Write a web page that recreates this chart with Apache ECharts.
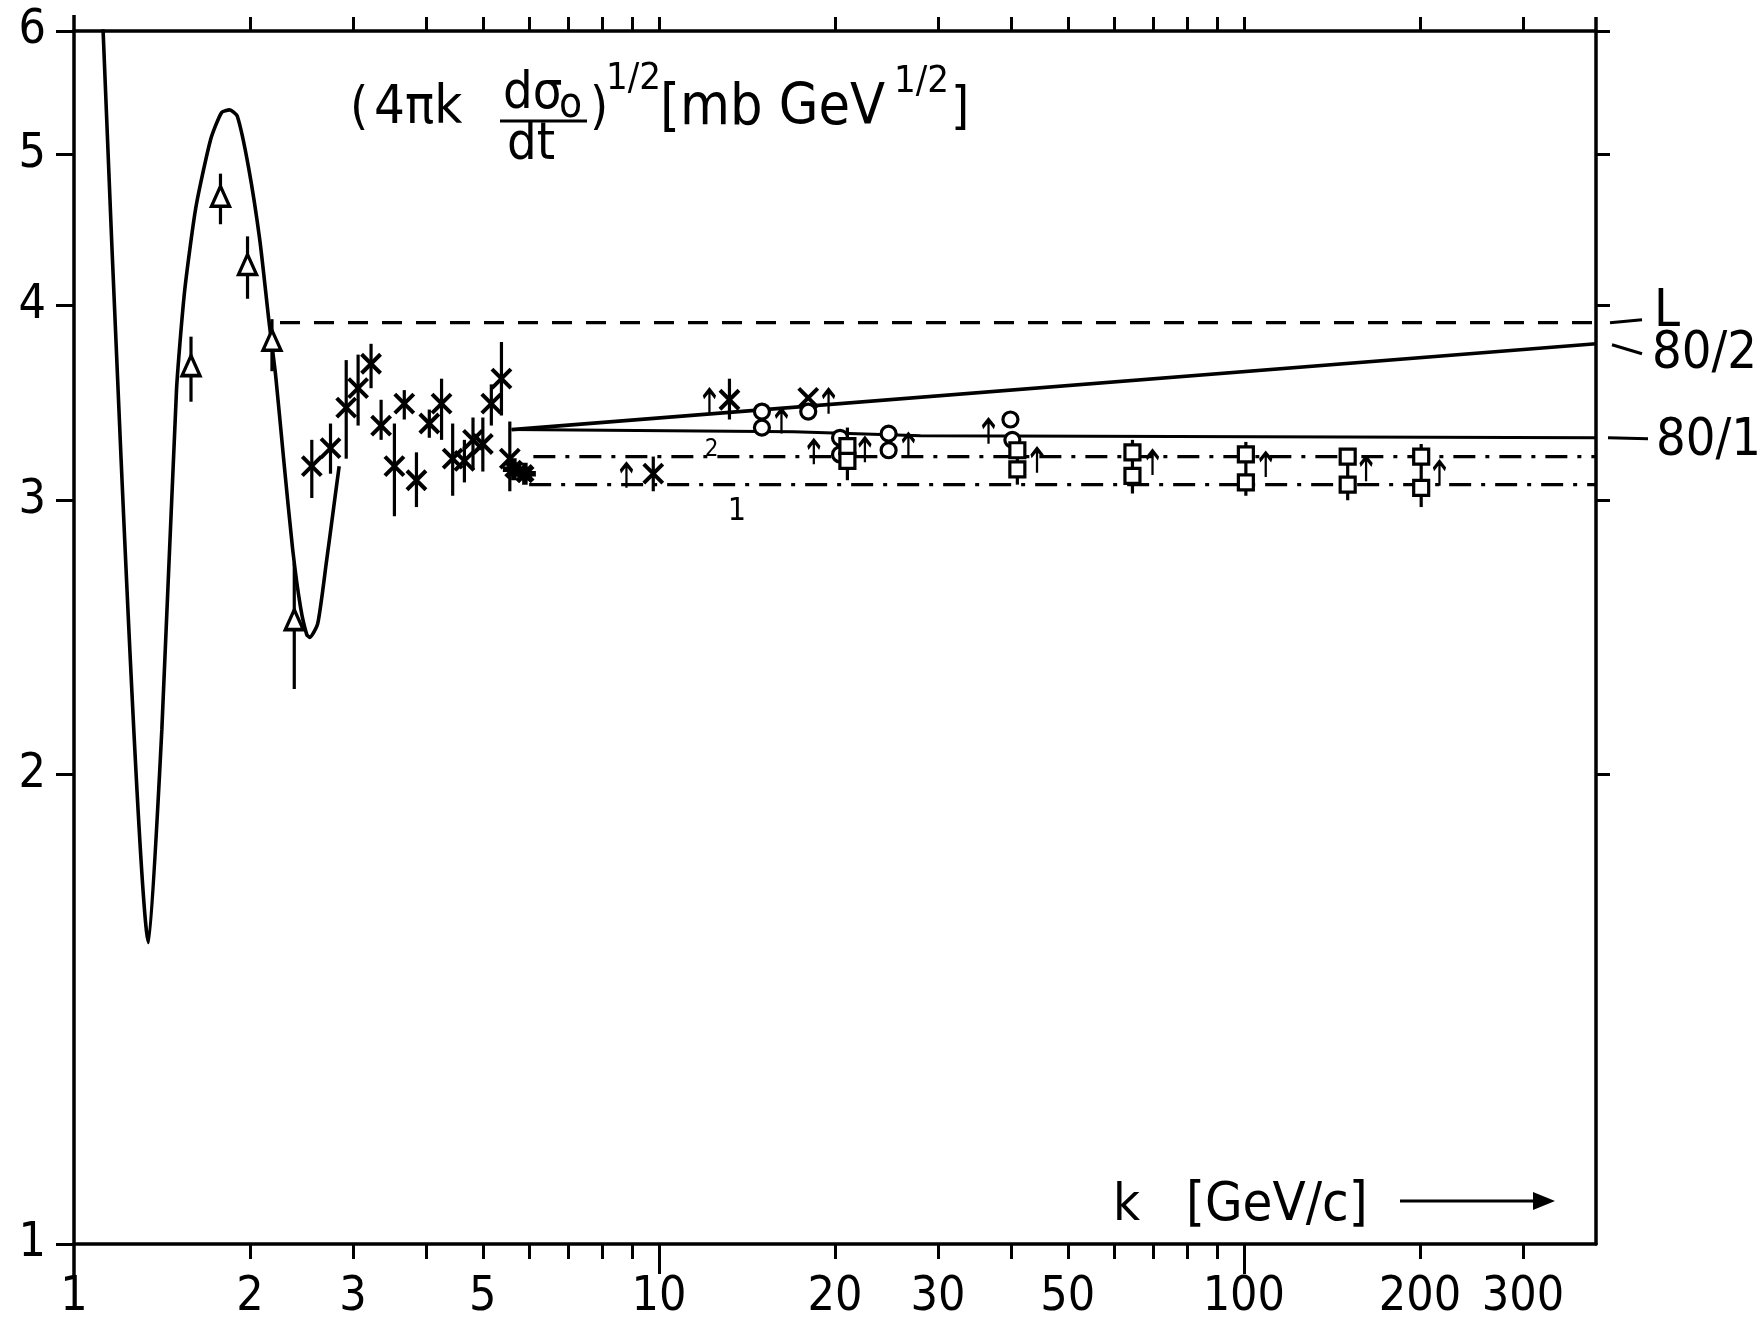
<!DOCTYPE html>
<html><head><meta charset="utf-8">
<script src="https://cdn.jsdelivr.net/npm/echarts@6/dist/echarts.min.js"></script>
<style>html,body{margin:0;padding:0;background:#fff}#c{width:1764px;height:1324px}</style>
</head><body><div id="c"></div><script>
const FONT = "'Liberation Sans Narrow','DejaVu Sans Condensed','Arial Narrow','Liberation Sans',sans-serif";

// ---- axis ticks / labels ----
const xMinorTicks = [2,3,4,5,6,7,8,9,20,30,40,50,60,70,80,90,200,300];
const xMajorTicks = [10,100];
const xTopTicks = [2,3,4,5,6,7,8,9,10,20,30,40,50,60,70,80,90,100,200,300];
const xLabels = [1,2,3,5,10,20,30,50,100,200,300];
const yLabels = [1,2,3,4,5,6];
const yRightTicks = [2,3,4,5,6];

// ---- curves [k, value] ----
const theoryCurve = [[1.112,6.5],[1.342,1.561],[1.413,2.137],[1.497,3.53],[1.545,4.08],[1.615,4.62],[1.712,5.11],[1.788,5.32],[1.845,5.34],[1.902,5.29],[1.989,4.90],[2.079,4.40],[2.154,3.91],[2.213,3.60],[2.284,3.18],[2.365,2.79],[2.44,2.56],[2.50,2.46],[2.53,2.45],[2.61,2.50],[2.70,2.735],[2.77,2.94],[2.84,3.155]];
const lineL = [[2.25,3.90],[400,3.90]];
const line80_2 = [[5.6,3.33],[400,3.78]];
const line80_1 = [[5.6,3.33],[17,3.32],[28,3.30],[400,3.29]];
const lineDD2 = [[6.1,3.20],[400,3.20]];
const lineDD1 = [[6.0,3.07],[400,3.07]];

// ---- data points ----
const triangles = [[1.585,3.66],[1.78,4.70],[1.98,4.25],[2.18,3.80],[2.38,2.515]];
const trianglesErr = [[1.585,3.47,3.82],[1.78,4.51,4.86],[1.98,4.04,4.43],[2.18,3.63,3.92],[2.38,2.27,2.735]];
const crosses = [[2.55,3.155],[2.745,3.24],[2.92,3.44],[3.06,3.54],[3.22,3.67],[3.35,3.35],[3.53,3.155],[3.67,3.46],[3.85,3.09],[4.05,3.36],[4.25,3.46],[4.44,3.19],[4.65,3.18],[4.81,3.28],[5.0,3.26],[5.17,3.46],[5.38,3.59],[5.56,3.19],[9.78,3.12],[13.2,3.48],[18.0,3.49]];
const crossesErr = [[2.55,3.01,3.28],[2.745,3.12,3.36],[2.92,3.19,3.69],[3.06,3.35,3.72],[3.22,3.54,3.78],[3.35,3.28,3.48],[3.53,2.93,3.36],[3.67,3.38,3.53],[3.85,2.97,3.22],[4.05,3.29,3.43],[4.25,3.28,3.59],[4.44,3.02,3.36],[4.65,3.08,3.28],[4.81,3.14,3.39],[5.0,3.13,3.39],[5.17,3.35,3.56],[5.38,3.40,3.79],[5.56,3.04,3.37],[9.78,3.04,3.20],[13.2,3.38,3.59]];
const stars = [[5.65,3.14],[5.9,3.12]];
const arrows = [[8.8,3.11],[12.2,3.47],[16.2,3.37],[18.4,3.22],[19.5,3.47],[22.5,3.23],[26.7,3.25],[36.6,3.32],[44.3,3.18],[69.8,3.17],[109,3.16],[161.8,3.14],[216,3.12]];
const circles = [[15.0,3.42],[15.0,3.34],[18.0,3.42],[20.4,3.29],[20.4,3.21],[24.7,3.31],[24.7,3.23],[39.9,3.38],[40.2,3.28]];
const squares = [[21.0,3.25],[21.0,3.18],[41.0,3.23],[41.0,3.14],[64.5,3.22],[64.5,3.11],[100.8,3.21],[100.8,3.08],[150.5,3.20],[150.5,3.07],[201,3.20],[201,3.055]];
const squaresErr = [[21.0,3.09,3.34],[41.0,3.07,3.28],[64.5,3.03,3.28],[100.8,3.02,3.27],[150.5,3.00,3.24],[201,2.97,3.26]];

const chart = echarts.init(document.getElementById('c'), null, {renderer:'canvas'});
const BLACK = '#000';
const axLine = {show:true, lineStyle:{color:BLACK, width:3.5}};

function errSeries(data){
  return {type:'custom', data:data, z:3, clip:true, encode:{x:0, y:[1,2]},
    renderItem:function(params, api){
      const a = api.coord([api.value(0), api.value(1)]);
      const b = api.coord([api.value(0), api.value(2)]);
      return {type:'line', shape:{x1:a[0],y1:a[1],x2:b[0],y2:b[1]}, style:{stroke:BLACK, lineWidth:3.2}};
    }};
}
function lineSeries(data, type, width){
  return {type:'line', data:data, symbol:'none', z:2, clip:true, lineStyle:{color:BLACK, width:width||3.5, type:type||'solid', opacity:1}};
}
function scatter(data, symbol, size, fill, bw){
  return {type:'scatter', data:data, symbol:symbol, symbolSize:size, z:5,
    itemStyle:{color:fill, borderColor:BLACK, borderWidth:bw, opacity:1},
    emphasis:{disabled:true}};
}
const SYM_TRI = 'path://M5,0L10,10L0,10Z';
const SYM_SQ = 'path://M0,0L10,0L10,10L0,10Z';
const SYM_CIRC = 'path://M10,5A5,5,0,1,1,0,5A5,5,0,1,1,10,5Z';
const SYM_X = 'path://M0,0L10,10M10,0L0,10';
const SYM_STAR = 'path://M5,0L5,10M0,5L10,5M1.5,1.5L8.5,8.5M8.5,1.5L1.5,8.5';
const SYM_ARROW = 'path://M5,0L5,22M0.5,7L5,0L9.5,7';

const option = {
  backgroundColor:'#fff',
  animation:false,
  grid:{left:74, right:168, top:31, bottom:80},
  xAxis:[
    {type:'log', logBase:10, min:1, max:400, position:'bottom', axisLine:axLine, splitLine:{show:false},
     axisTick:{show:true, inside:false, length:15, customValues:xMinorTicks, lineStyle:{color:BLACK, width:3}},
     axisLabel:{show:true, customValues:xLabels, margin:30, color:BLACK, fontSize:48, fontFamily:FONT, formatter:function(v){return String(Math.round(v));}},
     minorTick:{show:false}},
    {type:'log', logBase:10, min:1, max:400, position:'bottom', axisLine:{show:false}, splitLine:{show:false},
     axisTick:{show:true, inside:false, length:30, customValues:xMajorTicks, lineStyle:{color:BLACK, width:3}},
     axisLabel:{show:false}},
    {type:'log', logBase:10, min:1, max:400, position:'top', axisLine:axLine, splitLine:{show:false},
     axisTick:{show:true, inside:false, length:14, customValues:xTopTicks, lineStyle:{color:BLACK, width:3}},
     axisLabel:{show:false}}
  ],
  yAxis:[
    {type:'log', logBase:10, min:1, max:6, position:'left', axisLine:axLine, splitLine:{show:false},
     axisTick:{show:true, inside:false, length:18, customValues:yLabels, lineStyle:{color:BLACK, width:3}},
     axisLabel:{show:true, customValues:yLabels, margin:28, color:BLACK, fontSize:48, fontFamily:FONT, formatter:function(v){return String(Math.round(v));}}},
    {type:'log', logBase:10, min:1, max:6, position:'right', axisLine:axLine, splitLine:{show:false},
     axisTick:{show:true, inside:false, length:14, customValues:yRightTicks, lineStyle:{color:BLACK, width:3}},
     axisLabel:{show:false}}
  ],
  series:[
    Object.assign(lineSeries(theoryCurve,'solid',3.6), {smooth:0.2}),
    lineSeries(lineL, [20,14], 3.2),
    lineSeries(line80_2, 'solid', 3.6),
    lineSeries(line80_1, 'solid', 3),
    lineSeries(lineDD2, [22,10,4,10], 3.2),
    lineSeries(lineDD1, [22,10,4,10], 3.2),
    errSeries(trianglesErr),
    errSeries(crossesErr),
    errSeries(squaresErr),
    scatter(triangles, SYM_TRI, [18,20], '#fff', 3.4),
    scatter(crosses, SYM_X, [19,19], 'none', 4),
    scatter(stars, SYM_STAR, [22,22], 'none', 5.5),
    scatter(arrows, SYM_ARROW, [12,24], 'none', 3.2),
    scatter(circles, SYM_CIRC, 15, '#fff', 3.2),
    scatter(squares, SYM_SQ, 15, '#fff', 3.2)
  ]
};
chart.setOption(option);

// ---- annotations ----
const px = (k,v) => chart.convertToPixel({xAxisIndex:0, yAxisIndex:0}, [k,v]);
const g = [];
function txt(x,y,s,size,align){ g.push({type:'text', x:x, y:y, z:10, style:{text:s, fill:BLACK, font: (size||52)+'px '+FONT, textAlign:align||'left', textVerticalAlign:'middle'}}); }
function seg(x1,y1,x2,y2,w){ g.push({type:'line', z:10, shape:{x1:x1,y1:y1,x2:x2,y2:y2}, style:{stroke:BLACK, lineWidth:w||3}}); }

// title
txt(350,109,'(');
txt(374,109,'4πk',54);
txt(503,94,'dσ');
txt(559,106,'o',42);
seg(500,121,587,121,3);
txt(507,145,'dt');
txt(590,109,')');
txt(606,79,'1/2',38);
txt(660,109,'[mb GeV',57);
txt(894,82,'1/2',38);
txt(951,109,']');

// x axis title with arrow
txt(1113,1206,'k');
txt(1186,1206,'[GeV/c]',54);
seg(1400,1201,1535,1201,3);
g.push({type:'polygon', z:10, shape:{points:[[1533,1192],[1555,1201],[1533,1210]]}, style:{fill:BLACK}});

// frame line overhangs
const c00 = px(1,1), c11 = px(400,6), c01 = px(1,6);
seg(c00[0],c00[1],c00[0],c00[1]+33,3.5);
seg(c01[0],c01[1],c01[0],c01[1]-16,3.5);
seg(c11[0],c11[1],c11[0],c11[1]-14,3.5);

// right-hand curve labels
const pL = px(400,3.90), p2 = px(400,3.78), p1 = px(400,3.29);
seg(pL[0]+14,pL[1],pL[0]+46,pL[1]-3,3); txt(pL[0]+58,pL[1]-10,'L',52);
seg(p2[0]+16,p2[1]+1,p2[0]+46,p2[1]+10,3); txt(p2[0]+56,p2[1]+11,'80/2',52);
seg(p1[0]+12,p1[1],p1[0]+52,p1[1]+1,3); txt(p1[0]+60,p1[1]+4,'80/1',52);

// small curve labels "2" and "1"
const q2 = px(12.3,3.234), q1 = px(13.6,2.95);
txt(q2[0],q2[1],'2',24,'center');
txt(q1[0],q1[1],'1',32,'center');

chart.setOption({graphic:g});
</script></body></html>
